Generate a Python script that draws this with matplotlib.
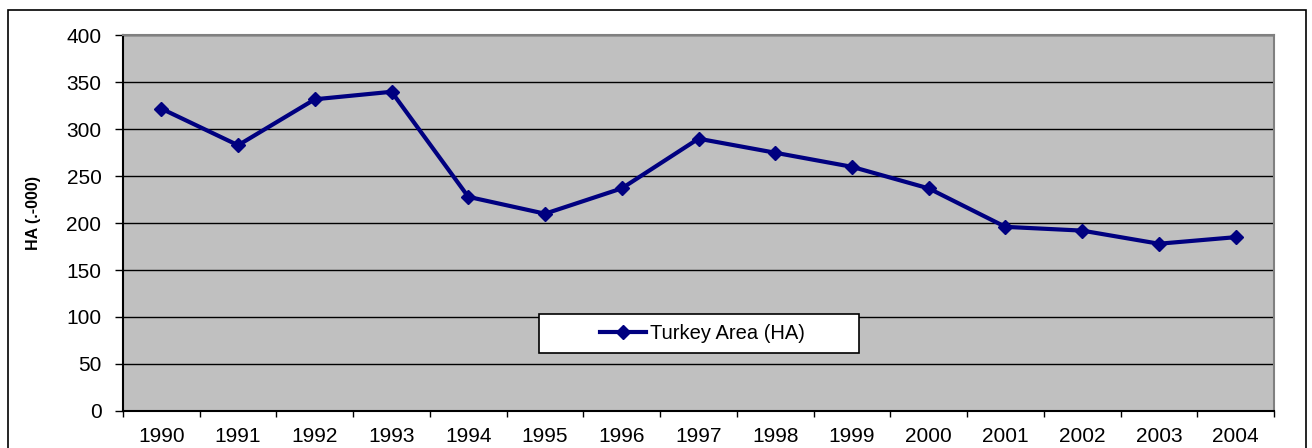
import matplotlib
matplotlib.use("Agg")
import matplotlib.pyplot as plt
from matplotlib.patches import Rectangle
from matplotlib.ticker import FixedLocator, NullFormatter

years = ["1990", "1991", "1992", "1993", "1994", "1995", "1996", "1997",
         "1998", "1999", "2000", "2001", "2002", "2003", "2004"]
area = [322, 283, 332, 340, 228, 210, 237, 290, 275, 260, 237, 196, 192, 178, 185]
series_label = "Turkey Area (HA)"
y_label = "HA (.-000)"
y_ticks = [0, 50, 100, 150, 200, 250, 300, 350, 400]

plt.rcParams['font.family'] = ['Liberation Sans', 'DejaVu Sans']

W, H = 1312, 448
fig = plt.figure(figsize=(W / 100, H / 100), dpi=100)
ax = fig.add_axes([123 / W, 1 - 410.7 / H, (1274 - 123) / W, (410.7 - 35.5) / H])
ax.set_facecolor("#C0C0C0")

x = list(range(len(years)))
ax.plot(x, area, color="#000080", lw=3, marker="D", markersize=7,
        label=series_label, zorder=3, clip_on=False)

ax.set_xlim(-0.5, len(years) - 0.5)
ax.set_ylim(0, 400)
ax.set_yticks(y_ticks)
ax.set_yticklabels([str(v) for v in y_ticks])
ax.set_xticks(x)
ax.set_xticklabels(years)
ax.xaxis.set_minor_locator(FixedLocator([i - 0.5 for i in range(len(years) + 1)]))
ax.xaxis.set_minor_formatter(NullFormatter())

ax.tick_params(axis="x", which="major", length=0, pad=12, labelsize=15)
ax.tick_params(axis="x", which="minor", length=4, width=1, direction="out", color="black")
ax.tick_params(axis="y", length=6, width=1, pad=9.5, labelsize=15, direction="out")

for yv in y_ticks[1:]:
    ax.axhline(yv, color="black", lw=1, zorder=1)

ax.spines["left"].set_color("black")
ax.spines["left"].set_linewidth(1.5)
ax.spines["bottom"].set_color("black")
ax.spines["bottom"].set_linewidth(1.5)
ax.spines["top"].set_color("#808080")
ax.spines["top"].set_linewidth(1.5)
ax.spines["right"].set_color("#808080")
ax.spines["right"].set_linewidth(1.5)

ax.set_ylabel(y_label, fontsize=11.5, fontweight="bold")
ax.yaxis.set_label_coords((41 - 123) / (1274 - 123), (410.7 - 212.5) / (410.7 - 35.5))

# legend box
ax_w = 1274 - 123
ax_h = 410.7 - 35.5
bx0 = (539 - 123) / ax_w
bx1 = (859 - 123) / ax_w
by0 = (410.7 - 353) / ax_h
by1 = (410.7 - 314) / ax_h
rect = Rectangle((bx0, by0), bx1 - bx0, by1 - by0, transform=ax.transAxes,
                 facecolor="white", edgecolor="black", lw=1.2, zorder=4)
ax.add_patch(rect)
leg = ax.legend(loc="center", bbox_to_anchor=((bx0 + bx1) / 2 + 0.003, (by0 + by1) / 2),
                frameon=False, fontsize=14.5, handlelength=2.3, handletextpad=0.2,
                borderpad=0.2)
leg.set_zorder(5)

# outer frame
frame = Rectangle((8 / W, -0.05), (1306 - 8) / W, 1 - 10 / H + 0.05,
                  transform=fig.transFigure, facecolor="none", edgecolor="black",
                  lw=1.2, zorder=0)
fig.patches.append(frame)

fig.savefig("out.png", dpi=100)
